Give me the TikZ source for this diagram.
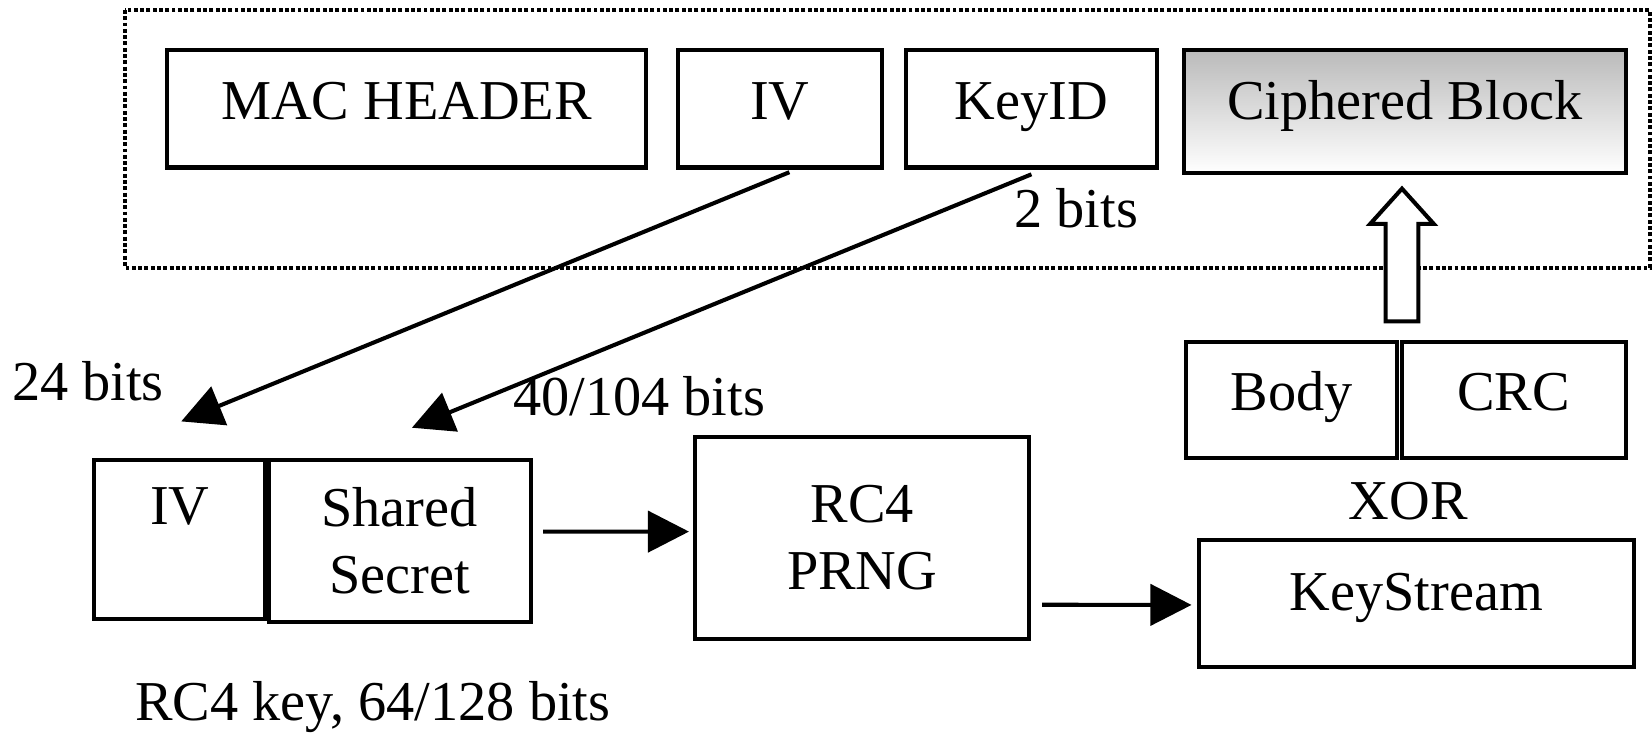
\documentclass[tikz,border=0pt]{standalone}
\usepackage{fontspec}
\setmainfont{Liberation Serif}
\usetikzlibrary{arrows.meta,calc}

\begin{document}
\begin{tikzpicture}[x=0.01cm,y=0.01cm,
        font=\fontsize{15.2}{18}\selectfont,
        field/.style={draw,line width=1.1pt,inner sep=0pt,align=center,minimum height=1.115cm},
        onerow/.style={text height=0.7em,text depth=0.14em},
        arr/.style={line width=1.1pt,-{Triangle[length=0.39cm,width=0.39cm]}},
        lbl/.style={anchor=base,inner sep=0pt}]
            \useasboundingbox (0,0) rectangle (1568,-698);
            % frame round the packet
            \draw[line width=1.05pt,dash pattern=on 1.05pt off 0.65pt] (118.6,-9.5) rectangle (1566,-254);
            \node[field,onerow,minimum width=4.545cm] (mac) at (385.75,-103.25) {MAC HEADER};
            \node[field,onerow,minimum width=1.935cm] (ivtop) at (740.25,-103.25) {IV};
            \node[field,onerow,minimum width=2.38cm] (keyid) at (979,-103.25) {KeyID};
            \node[field,onerow,text depth=0.27em,minimum width=4.19cm,minimum height=1.165cm,top color=black!27,bottom color=white] (ciph) at (1333.5,-105.75) {Ciphered Block};
            \node[lbl] (twobits) at (1021.5,-216) {2 bits};
            % key and generator
            \node[field,minimum width=1.624cm,minimum height=1.51cm] (ivkey) at (170.7,-512.15) {IV\\\phantom{S}};
            \node[field,minimum width=2.486cm,minimum height=1.534cm] (shared) at (379.3,-513.3) {Shared\\Secret};
            \node[field,minimum width=3.174cm,minimum height=1.92cm] (rc4) at (818.3,-510.5) {RC4\\PRNG};
            \node[lbl] (ivbits) at (83.5,-380) {24 bits};
            \node[lbl] (secbits) at (606.5,-394) {40/104 bits};
            \node[lbl] (keybits) at (354,-684) {RC4 key, 64/128 bits};
            % body, crc and keystream
            \node[field,onerow,minimum width=2.0cm,minimum height=1.10cm] (body) at (1226,-379.35) {Body};
            \node[field,onerow,minimum width=2.126cm,minimum height=1.10cm] (crc) at (1436.7,-379.35) {CRC};
            \node[lbl] (xor) at (1336.6,-493) {XOR};
            \node[field,onerow,text depth=0.3em,minimum width=4.13cm,minimum height=1.198cm] (keystream) at (1344.5,-572.9) {KeyStream};
            % arrows
            \coordinate (ivtip) at (172,-400);
            \coordinate (sharedtip) at (391,-406);
            \draw[arr] ($(ivtop.south)+(9,-2.5)$) -- (ivtip);
            \draw[arr] ($(keyid.south)+(0,-4.5)$) -- (sharedtip);
            \draw[arr] ($(shared.east)+(10,8.7)$) -- ($(rc4.west)+(-3.6,5.9)$);
            \draw[arr] ($(rc4.east)+(10,-63.5)$) -- ($(keystream.west)+(-5,-1.3)$);
            \coordinate (foot) at ($(body.north east)!0.5!(crc.north west)+(2.5,17.3)$);
            \draw[line width=1.1pt,fill=white] ($(foot)+(-15.5,0)$) -- ++(0,92.5) -- ++(-14.7,0) -- ++(30.2,33.5) -- ++(30.2,-33.5) -- ++(-14.7,0) -- ++(0,-92.5) -- cycle;
        \end{tikzpicture}
\end{document}
